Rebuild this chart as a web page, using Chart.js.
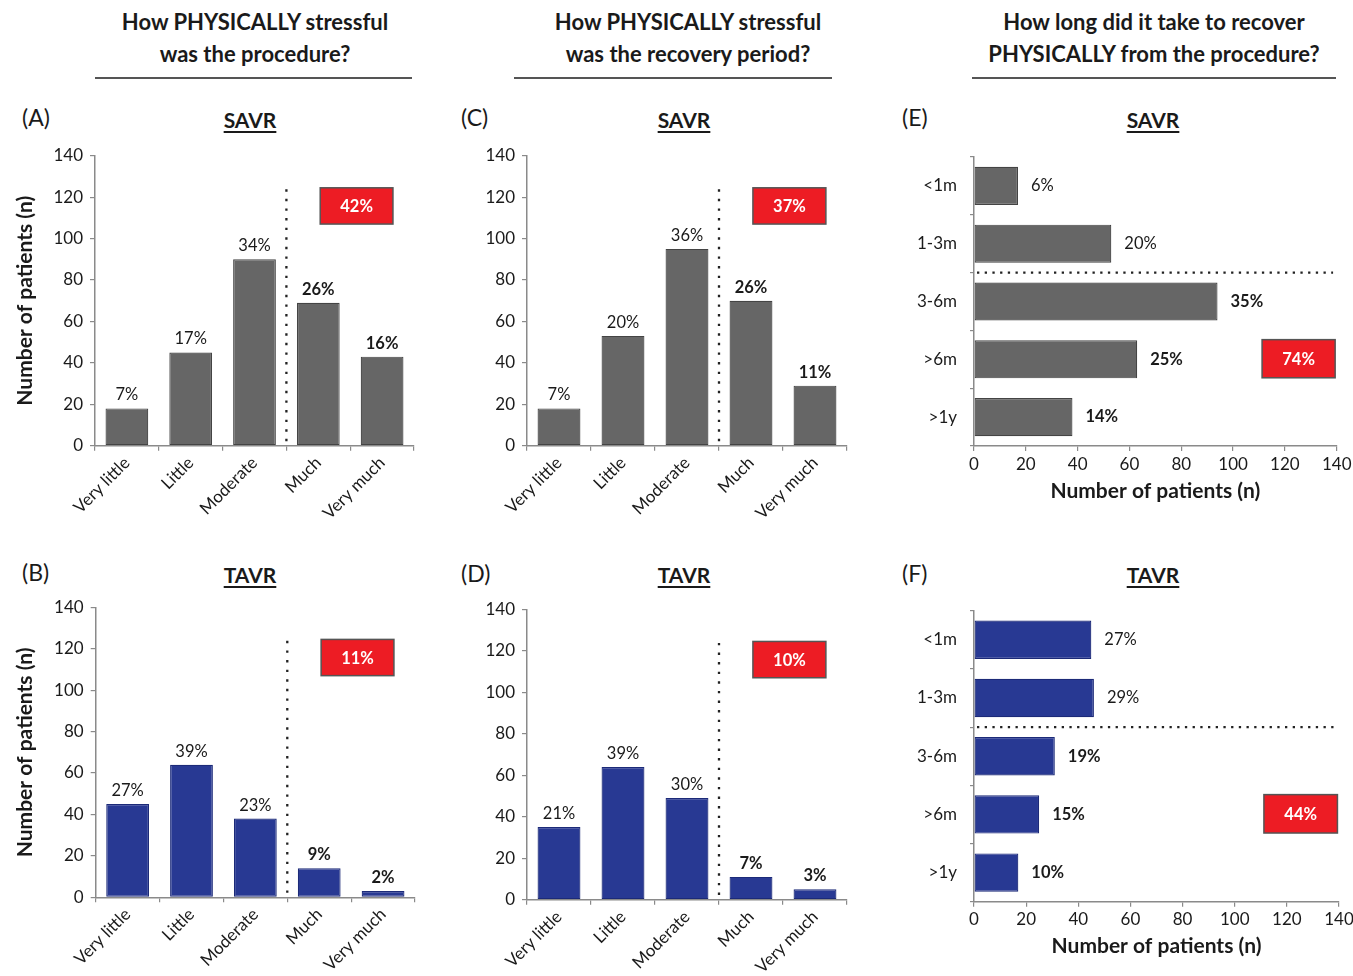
<!DOCTYPE html>
<html>
<head>
<meta charset="utf-8">
<script src="https://cdn.jsdelivr.net/npm/chart.js@4.4.1/dist/chart.umd.min.js"></script>
<style>
    body { margin: 0; background: #fff; width: 1353px; height: 976px; position: relative; overflow: hidden; font-family: Lato, 'Open Sans', sans-serif; color: #1a1a1a; }
    .hd { position: absolute; width: 420px; font-weight: bold; font-size: 22px; line-height: 32px; text-align: center; }
    .rule { position: absolute; height: 2px; top: 77px; background: #555; }
    .tag { position: absolute; font-size: 23px; line-height: 28px; }
    .grp { position: absolute; width: 120px; font-weight: bold; font-size: 21px; line-height: 26px; text-align: center; text-decoration: underline; text-underline-offset: 3px; }
    .panel { position: absolute; }
</style>
</head>
<body>
<div class="hd" style="left:45px;top:6px">How PHYSICALLY stressful<br>was the procedure?</div>
<div class="hd" style="left:478px;top:6px">How PHYSICALLY stressful<br>was the recovery period?</div>
<div class="hd" style="left:944px;top:6px">How long did it take to recover<br>PHYSICALLY from the procedure?</div>
<div class="rule" style="left:95px;width:317px"></div>
<div class="rule" style="left:514px;width:318px"></div>
<div class="rule" style="left:972px;width:364px"></div>

<div class="tag" style="left:22px;top:103px">(A)</div>
<div class="tag" style="left:22px;top:558px">(B)</div>
<div class="tag" style="left:461px;top:103px">(C)</div>
<div class="tag" style="left:461px;top:559px">(D)</div>
<div class="tag" style="left:902px;top:103px">(E)</div>
<div class="tag" style="left:902px;top:559px">(F)</div>
<div class="grp" style="left:190px;top:107px">SAVR</div>
<div class="grp" style="left:190px;top:562px">TAVR</div>
<div class="grp" style="left:624px;top:107px">SAVR</div>
<div class="grp" style="left:624px;top:562px">TAVR</div>
<div class="grp" style="left:1093px;top:107px">SAVR</div>
<div class="grp" style="left:1093px;top:562px">TAVR</div>

<div class="panel" style="left:0;top:140px"><canvas id="cA" width="430" height="385"></canvas></div>
<div class="panel" style="left:0;top:592px"><canvas id="cB" width="430" height="384"></canvas></div>
<div class="panel" style="left:440px;top:140px"><canvas id="cC" width="430" height="385"></canvas></div>
<div class="panel" style="left:440px;top:592px"><canvas id="cD" width="430" height="384"></canvas></div>
<div class="panel" style="left:900px;top:140px"><canvas id="cE" width="453" height="370"></canvas></div>
<div class="panel" style="left:900px;top:592px"><canvas id="cF" width="453" height="384"></canvas></div>

<script>
// categorias y valores
const catsStress = ['Very little', 'Little', 'Moderate', 'Much', 'Very much'];
const catsTime = ['<1m', '1-3m', '3-6m', '>6m', '>1y'];
const axisTicks = [0, 20, 40, 60, 80, 100, 120, 140];

const savrProcedure = [18, 45, 90, 69, 43];
const savrProcedurePct = ['7%', '17%', '34%', '26%', '16%'];
const tavrProcedure = [45, 64, 38, 14, 3];
const tavrProcedurePct = ['27%', '39%', '23%', '9%', '2%'];

const savrRecovery = [18, 53, 95, 70, 29];
const savrRecoveryPct = ['7%', '20%', '36%', '26%', '11%'];
const tavrRecovery = [35, 64, 49, 11, 5];
const tavrRecoveryPct = ['21%', '39%', '30%', '7%', '3%'];

const savrTime = [17, 53, 94, 63, 38];
const savrTimePct = ['6%', '20%', '35%', '25%', '14%'];
const tavrTime = [45, 46, 31, 25, 17];
const tavrTimePct = ['27%', '29%', '19%', '15%', '10%'];

const highTotals = ['42%', '11%', '37%', '10%', '74%', '44%'];

const GRAY = '#666666', GRAY_EDGE = '#444444';
const BLUE = '#283993', BLUE_EDGE = '#1c2a78';
const AXIS = '#8a8a8a';
const FONT = 'Lato';

const extrasPlugin = {
    id: 'extras',
    afterDatasetsDraw(chart, args, o) {
        const ctx = chart.ctx;
        const horiz = chart.options.indexAxis === 'y';
        const cat = horiz ? chart.scales.y : chart.scales.x;
        const val = horiz ? chart.scales.x : chart.scales.y;
        ctx.save();

        // linea punteada que separa los grupos
        ctx.strokeStyle = '#222';
        ctx.lineWidth = 2.3;
        ctx.setLineDash(horiz ? [2.3, 5.4] : [2.4, 7.2]);
        ctx.beginPath();
        const c = cat.getPixelForValue(o.split);
        if (horiz) {
            ctx.moveTo(val.getPixelForValue(0) + 3, c);
            ctx.lineTo(val.getPixelForValue(o.splitEnd), c);
        } else {
            ctx.moveTo(c, val.getPixelForValue(o.splitEnd));
            ctx.lineTo(c, val.getPixelForValue(0));
        }
        ctx.stroke();
        ctx.setLineDash([]);

        // porcentajes sobre cada barra
        const meta = chart.getDatasetMeta(0);
        ctx.fillStyle = '#1a1a1a';
        meta.data.forEach((el, i) => {
            ctx.font = (i >= o.boldFrom ? 'bold ' : '') + '16.5px ' + FONT;
            if (horiz) {
                ctx.textAlign = 'left';
                ctx.textBaseline = 'middle';
                ctx.fillText(o.pct[i], el.x + 13, el.y);
            } else {
                ctx.textAlign = 'center';
                ctx.textBaseline = 'alphabetic';
                ctx.fillText(o.pct[i], el.x, el.y - 8);
            }
        });

        // caja roja con el total
        let x1, x2, y1, y2;
        if (horiz) {
            x1 = val.getPixelForValue(o.boxVal[0]); x2 = val.getPixelForValue(o.boxVal[1]);
            y1 = cat.getPixelForValue(o.boxCat[0]); y2 = cat.getPixelForValue(o.boxCat[1]);
        } else {
            x1 = cat.getPixelForValue(o.boxCat[0]); x2 = cat.getPixelForValue(o.boxCat[1]);
            y1 = val.getPixelForValue(o.boxVal[1]); y2 = val.getPixelForValue(o.boxVal[0]);
        }
        ctx.fillStyle = '#ed1c24';
        ctx.fillRect(x1, y1, x2 - x1, y2 - y1);
        ctx.strokeStyle = '#555';
        ctx.lineWidth = 1.5;
        ctx.strokeRect(x1, y1, x2 - x1, y2 - y1);
        ctx.fillStyle = '#fff';
        ctx.font = 'bold 16.5px ' + FONT;
        ctx.textAlign = 'center';
        ctx.textBaseline = 'middle';
        ctx.fillText(o.total, (x1 + x2) / 2, (y1 + y2) / 2 + 1);
        ctx.restore();
    }
};

function sinPadding(s) {
    // el area del grafico se fija a mano; se ignora el margen que pide cada eje
    s.paddingTop = 0;
    s.paddingBottom = 0;
    s.paddingLeft = 0;
    s.paddingRight = 0;
}

function dibujarPanel(p) {
    const canvas = document.getElementById(p.id);
    const W = canvas.width, H = canvas.height;
    const [l, t, r, b] = p.area;
    const horiz = !!p.horiz;
    const catAxis = horiz ? 'y' : 'x';
    const valAxis = horiz ? 'x' : 'y';

    const gridOpts = { display: true, drawOnChartArea: false, drawTicks: true, tickLength: 5, color: AXIS, lineWidth: 1.2 };
    const borderOpts = { display: true, color: AXIS, width: 1.5 };

    const scales = {};
    scales[catAxis] = {
        type: 'category',
        grid: Object.assign({}, gridOpts, { offset: true, tickLength: horiz ? 4 : 5 }),
        border: borderOpts,
        ticks: horiz
            ? { color: '#1a1a1a', font: { family: FONT, size: 17 }, padding: 13 }
            : { color: '#1a1a1a', font: { family: FONT, size: 17 }, minRotation: 45, maxRotation: 45, padding: 2 },
        afterFit: s => {
            if (horiz) s.width = l; else s.height = H - b;
            sinPadding(s);
        }
    };
    scales[valAxis] = {
        type: 'linear',
        min: 0,
        max: 140,
        grid: gridOpts,
        border: borderOpts,
        ticks: { color: '#1a1a1a', font: { family: FONT, size: 17 }, padding: horiz ? 3 : 7 },
        afterBuildTicks: s => { s.ticks = axisTicks.map(v => ({ value: v })); },
        title: {
            display: !!p.title,
            text: 'Number of patients (n)',
            color: '#1a1a1a',
            font: { family: FONT, size: 21, weight: 'bold' },
            padding: horiz ? { top: 0, bottom: p.titlePad } : { top: p.titlePad, bottom: 0 }
        },
        afterFit: s => {
            if (horiz) s.height = H - b; else s.width = l;
            sinPadding(s);
        }
    };

    return new Chart(canvas, {
        type: 'bar',
        data: {
            labels: p.cats,
            datasets: [{
                data: p.vals,
                backgroundColor: p.color,
                borderColor: p.edge,
                borderWidth: 1.2,
                borderSkipped: false,
                categoryPercentage: 1,
                barPercentage: horiz ? 0.66 : 0.67
            }]
        },
        options: {
            indexAxis: catAxis,
            responsive: false,
            animation: false,
            layout: { padding: { left: 0, top: t, right: W - r, bottom: 0 } },
            plugins: {
                legend: { display: false },
                tooltip: { enabled: false },
                extras: {
                    pct: p.pct,
                    boldFrom: horiz ? 2 : 3,
                    split: horiz ? 1.5 : 2.5,
                    splitEnd: horiz ? 138.6 : 123.8,
                    total: p.total,
                    boxCat: p.boxCat,
                    boxVal: p.boxVal
                }
            },
            scales
        },
        plugins: [extrasPlugin]
    });
}

const verticalBox = { boxCat: [3.03, 4.17], boxVal: [107, 124.5] };
const horizBox = { boxCat: [2.66, 3.32], boxVal: [111.2, 139.4] };

const paneles = [
    Object.assign({ id: 'cA', area: [95, 15.7, 414, 305.7], cats: catsStress, vals: savrProcedure, pct: savrProcedurePct, color: GRAY, edge: GRAY_EDGE, total: highTotals[0], title: true, titlePad: 13 }, verticalBox),
    Object.assign({ id: 'cB', area: [95.7, 15.3, 415, 305.3], cats: catsStress, vals: tavrProcedure, pct: tavrProcedurePct, color: BLUE, edge: BLUE_EDGE, total: highTotals[1], title: true, titlePad: 13 }, verticalBox),
    Object.assign({ id: 'cC', area: [87, 15.7, 407, 305.7], cats: catsStress, vals: savrRecovery, pct: savrRecoveryPct, color: GRAY, edge: GRAY_EDGE, total: highTotals[2] }, verticalBox),
    Object.assign({ id: 'cD', area: [87, 17.3, 407, 307.7], cats: catsStress, vals: tavrRecovery, pct: tavrRecoveryPct, color: BLUE, edge: BLUE_EDGE, total: highTotals[3] }, verticalBox),
    Object.assign({ id: 'cE', horiz: true, area: [74, 17, 436.7, 306], cats: catsTime, vals: savrTime, pct: savrTimePct, color: GRAY, edge: GRAY_EDGE, total: highTotals[4], title: true, titlePad: 5.8 }, horizBox),
    Object.assign({ id: 'cF', horiz: true, area: [74, 18.7, 439, 309.7], cats: catsTime, vals: tavrTime, pct: tavrTimePct, color: BLUE, edge: BLUE_EDGE, total: highTotals[5], title: true, titlePad: 16.8 }, horizBox)
];

paneles.forEach(dibujarPanel);
</script>
</body>
</html>
